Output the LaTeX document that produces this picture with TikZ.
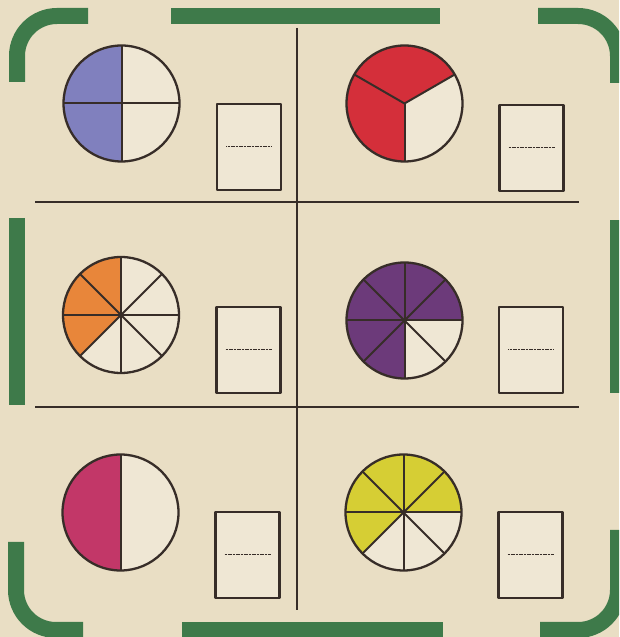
\documentclass[tikz,border=0pt]{standalone}
\definecolor{bgc}{RGB}{233,222,196}
\definecolor{blankc}{RGB}{239,231,212}
\definecolor{framec}{RGB}{62,122,74}
\definecolor{inkc}{RGB}{55,45,40}
\definecolor{bluec}{RGB}{128,128,190}
\definecolor{redc}{RGB}{212,47,58}
\definecolor{orangec}{RGB}{232,134,58}
\definecolor{purplec}{RGB}{108,58,122}
\definecolor{magentac}{RGB}{194,55,104}
\definecolor{yellowc}{RGB}{214,206,52}
\tikzset{
  framebar/.style={draw=framec, line width=16pt, line cap=butt, rounded corners=40pt},
  gridline/.style={draw=inkc, line width=2pt},
  ansbox/.style={draw=inkc, line width=2.5pt, fill=blankc, minimum width=64pt, minimum height=86pt, inner sep=0pt},
  blankline/.style={draw=inkc, line width=1pt, dash pattern=on 1.2pt off 0.4pt},
  piedge/.style={draw=inkc, line width=2.3pt},
  pieline/.style={draw=inkc, line width=2pt}
}
\newcommand{\mysector}[4]{\fill[#4] (#1) -- ++(#2:58) arc[start angle=#2, end angle=#3, radius=58] -- cycle;}
\begin{document}
\begin{tikzpicture}[x=1pt,y=1pt,line join=round]
\useasboundingbox (0,0) rectangle (619,637);
\fill[bgc] (0,0) rectangle (619,637);
\begin{scope}
\clip (0,0) rectangle (619,637);
% frame
\draw[framebar] (17,555) -- (17,621) -- (88,621);
\draw[framebar] (171,621) -- (440,621);
\draw[framebar] (538,621) -- (618,621) -- (618,554);
\draw[framebar] (17,419) -- (17,232);
\draw[framebar] (618,417) -- (618,244);
\draw[framebar] (16,95) -- (16,7) -- (83,7);
\draw[framebar] (182,7) -- (443,7);
\draw[framebar] (540,7) -- (618,7) -- (618,107);
\end{scope}
% grid
\coordinate (vtop) at (297,609);
\coordinate (vbot) at (297,27);
\coordinate (h1l) at (35,435);
\coordinate (h1r) at (579,435);
\coordinate (h2l) at (35,230);
\coordinate (h2r) at (579,230);
\draw[gridline] (vtop) -- (vbot);
\draw[gridline] (h1l) -- (h1r);
\draw[gridline] (h2l) -- (h2r);
% circle centres
\coordinate (c1) at (121.5,533.5);
\coordinate (c2) at (404.5,533.5);
\coordinate (c3) at (121,322);
\coordinate (c4) at (404.5,316.5);
\coordinate (c5) at (120.5,124.5);
\coordinate (c6) at (403.5,124.5);
\foreach \c in {c1,c2,c3,c4,c5,c6} {\fill[blankc] (\c) circle[radius=58];}
% circle 1: 2/4
\mysector{c1}{90}{270}{bluec}
\foreach \a in {0,90,180,270} \draw[pieline] (c1) -- ++(\a:58);
% circle 2: 2/3
\mysector{c2}{30}{270}{redc}
\foreach \a in {30,150,270} \draw[pieline] (c2) -- ++(\a:58);
% circle 3: 3/8
\mysector{c3}{90}{225}{orangec}
\foreach \a in {0,45,...,315} \draw[pieline] (c3) -- ++(\a:58);
% circle 4: 6/8
\mysector{c4}{0}{270}{purplec}
\foreach \a in {0,45,...,315} \draw[pieline] (c4) -- ++(\a:58);
% circle 5: 1/2
\mysector{c5}{90}{270}{magentac}
\draw[pieline] (c5) -- ++(90:58);
\draw[pieline] (c5) -- ++(270:58);
% circle 6: 5/8
\mysector{c6}{0}{225}{yellowc}
\foreach \a in {0,45,...,315} \draw[pieline] (c6) -- ++(\a:58);
\foreach \c in {c1,c2,c3,c4,c5,c6} {\draw[piedge] (\c) circle[radius=58];}
% answer boxes
\node[ansbox] (b1) at (249,490) {};
\node[ansbox] (b2) at (531.5,489) {};
\node[ansbox] (b3) at (248.5,287) {};
\node[ansbox] (b4) at (531,287) {};
\node[ansbox] (b5) at (247.5,82) {};
\node[ansbox] (b6) at (530.5,82) {};
\foreach \b in {b1,b2,b3,b4,b5,b6} {\draw[blankline] ([xshift=-23pt]\b.center) -- ([xshift=23pt]\b.center);}
\end{tikzpicture}
\end{document}
